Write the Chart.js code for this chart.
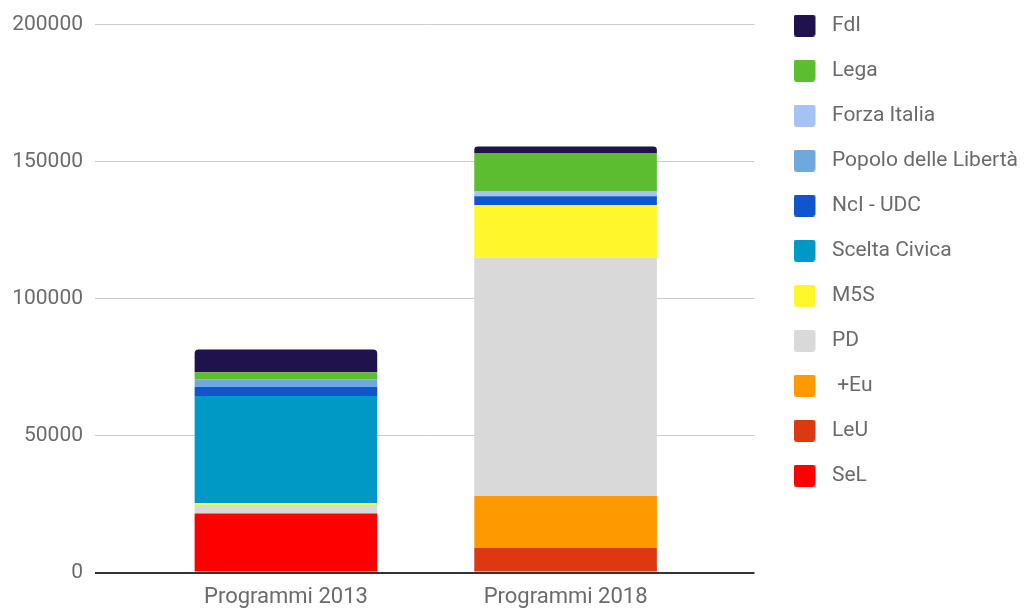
<!DOCTYPE html>
<html>
<head>
<meta charset="utf-8">
<script src="https://cdn.jsdelivr.net/npm/chart.js@4/dist/chart.umd.min.js"></script>
<style>
  html, body { margin: 0; padding: 0; background: #fff; }
  #wrap { width: 1025px; height: 614px; }
</style>
</head>
<body>
<div id="wrap"><canvas id="chart1"></canvas></div>
<script>
// categories (x axis)
var programmi = ["Programmi 2013", "Programmi 2018"];

// series, bottom of the stack first
var sel = [21600, 0];
var leu = [0, 9000];
var piuEuropa = [0, 19000];
var pd = [3050, 87000];
var m5s = [730, 19050];
var sceltaCivica = [39100, 0];
var nciUdc = [3270, 3270];
var pdl = [2690, 0];
var forzaItalia = [0, 1930];
var lega = [2650, 13700];
var fdi = [8360, 2550];

// y axis ticks
var yTicks = [0, 50000, 100000, 150000, 200000];

var grey = "#6b6b6b";
Chart.defaults.font.family = "Roboto";

// square swatch with some room on its right, so the text sits further away
function swatch(color) {
    var c = document.createElement("canvas");
    c.width = 28;
    c.height = 22;
    var g = c.getContext("2d");
    g.fillStyle = color;
    g.beginPath();
    g.roundRect(0, 0, 22, 22, 3);
    g.fill();
    return c;
}

// legend sits a bit off the plot, and starts higher
var legendShift = {
    id: "legendShift",
    afterLayout: function(chart) {
        var lg = chart.legend;
        var dx = chart.chartArea.right + 15 - lg.left;
        lg.left += dx; lg.right += dx;
        lg.top -= 32; lg.bottom -= 32;
    }
};

new Chart("chart1", {
    type: "bar",
    data: {
        labels: programmi,
        datasets: [
            { label: "SeL", data: sel, backgroundColor: "#ff0000" },
            { label: "LeU", data: leu, backgroundColor: "#dc3912" },
            { label: " +Eu", data: piuEuropa, backgroundColor: "#ff9900" },
            { label: "PD", data: pd, backgroundColor: "#d9d9d9" },
            { label: "M5S", data: m5s, backgroundColor: "#fff72c" },
            { label: "Scelta Civica", data: sceltaCivica, backgroundColor: "#0099c6" },
            { label: "NcI - UDC", data: nciUdc, backgroundColor: "#1155cc" },
            { label: "Popolo delle Libertà", data: pdl, backgroundColor: "#6fa8dc" },
            { label: "Forza Italia", data: forzaItalia, backgroundColor: "#a4c2f4" },
            { label: "Lega", data: lega, backgroundColor: "#5cbd31" },
            { label: "FdI", data: fdi, backgroundColor: "#20124d",
              borderRadius: { topLeft: 4, topRight: 4 } }
        ]
    },
    plugins: [legendShift],
    options: {
        responsive: true,
        maintainAspectRatio: false,
        animation: false,
        layout: { padding: { top: 23, bottom: -9, left: 0, right: 19 } },
        datasets: {
            bar: { categoryPercentage: 1, barPercentage: 0.653 }
        },
        plugins: {
            tooltip: { enabled: false },
            legend: {
                position: "right",
                align: "start",
                reverse: true,
                labels: {
                    usePointStyle: true,
                    pointStyleWidth: 28,
                    boxHeight: 22,
                    padding: 24,
                    color: grey,
                    font: { size: 21 },
                    generateLabels: function(chart) {
                        var items = Chart.defaults.plugins.legend.labels.generateLabels(chart);
                        items.forEach(function(it) { it.pointStyle = swatch(it.fillStyle); });
                        return items;
                    }
                }
            }
        },
        scales: {
            x: {
                stacked: true,
                grid: { display: false, drawTicks: false },
                border: { display: false },
                ticks: { color: grey, font: { size: 22 }, padding: 12 },
                // bars sit closer together than the plot width
                afterBuildTicks: function(s) {
                    s._startValue = -0.6828;
                    s._valueRange = 2.3584;
                }
            },
            y: {
                stacked: true,
                min: yTicks[0],
                max: yTicks[yTicks.length - 1],
                afterBuildTicks: function(s) {
                    s.ticks = yTicks.map(function(v) { return { value: v }; });
                },
                afterFit: function(s) { s.width = 95; },
                border: { display: false },
                grid: {
                    drawTicks: false,
                    color: function(ctx) { return ctx.tick && ctx.tick.value === 0 ? "#333333" : "#cccccc"; },
                    lineWidth: function(ctx) { return ctx.tick && ctx.tick.value === 0 ? 2 : 1; }
                },
                ticks: {
                    color: grey,
                    font: { size: 21 },
                    padding: 12,
                    callback: function(v) { return String(v); }
                }
            }
        }
    }
});
</script>
</body>
</html>
